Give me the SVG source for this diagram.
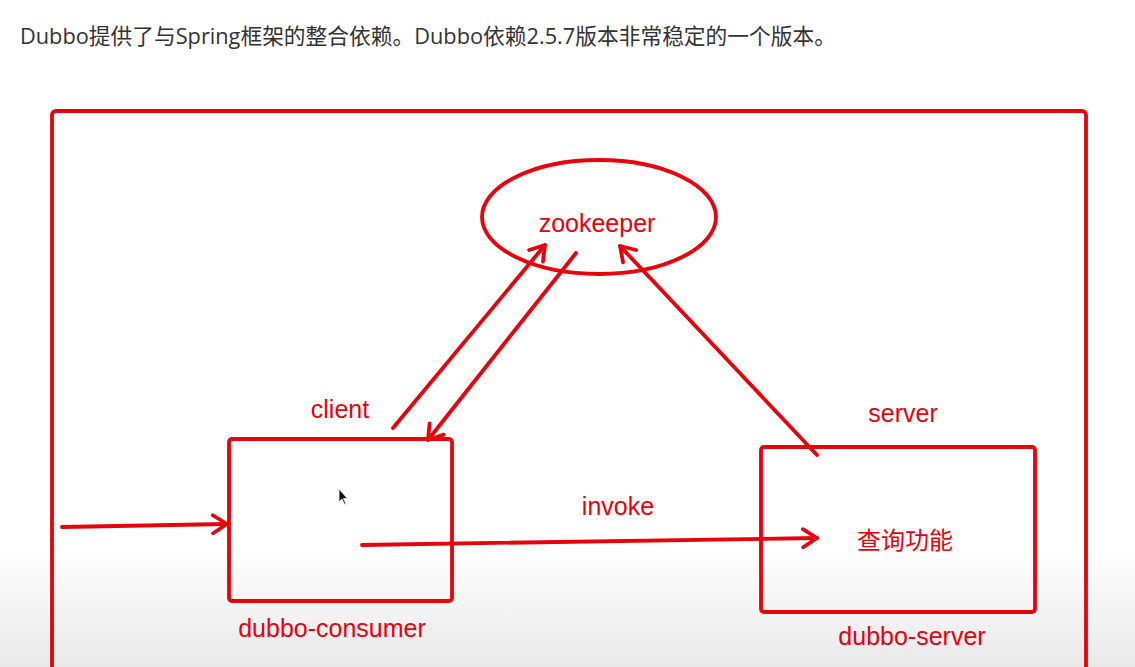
<svg xmlns="http://www.w3.org/2000/svg" width="1135" height="667" viewBox="0 0 1135 667">
<defs>
<linearGradient id="bg" x1="0" y1="0" x2="0" y2="1">
<stop offset="0" stop-color="#ffffff"/>
<stop offset="0.82" stop-color="#ffffff"/>
<stop offset="1" stop-color="#e9e9e9"/>
</linearGradient>
<marker id="arr" viewBox="0 0 22 22" refX="19" refY="11" markerWidth="22" markerHeight="22" markerUnits="userSpaceOnUse" orient="auto">
<path d="M5,2 L19,11 L5,20" fill="none" stroke="#e8000b" stroke-width="3.8" stroke-linecap="round" stroke-linejoin="round"/>
</marker>
</defs>
<style>
.ln{fill:none;stroke:#e8000b;stroke-width:3.8;stroke-linecap:round}
.box{fill:none;stroke:#e8000b;stroke-width:3.8}
.lbl{font-family:"Liberation Sans",Arial,sans-serif;font-size:25px;fill:#e8000b}
.cjk{font-family:"Liberation Sans","Noto Sans CJK SC",sans-serif;font-size:24px;fill:#e8000b}
.hdr{font-family:"Open Sans","Noto Sans CJK SC",sans-serif;font-size:22px;fill:#333333}
</style>
<rect x="0" y="0" width="1135" height="667" fill="url(#bg)"/>
<text class="hdr" x="20" y="44" textLength="816" lengthAdjust="spacingAndGlyphs">Dubbo提供了与Spring框架的整合依赖。Dubbo依赖2.5.7版本非常稳定的一个版本。</text>
<rect id="frame" x="52" y="111" width="1034" height="600" rx="4" class="box"/>
<g id="zookeeper">
<ellipse cx="599" cy="217" rx="117" ry="57" class="box"/>
<text class="lbl" x="597" y="232" text-anchor="middle">zookeeper</text>
</g>
<g id="consumer">
<rect x="229" y="439" width="223" height="162" rx="3" class="box"/>
<text class="lbl" x="340" y="418" text-anchor="middle">client</text>
<text class="lbl" x="332" y="637" text-anchor="middle">dubbo-consumer</text>
</g>
<g id="server">
<rect x="761" y="447" width="274" height="165" rx="3" class="box"/>
<text class="lbl" x="903" y="422" text-anchor="middle">server</text>
<text class="cjk" x="905" y="549" text-anchor="middle">查询功能</text>
<text class="lbl" x="912" y="645" text-anchor="middle">dubbo-server</text>
</g>
<g id="connectors">
<line x1="393" y1="428" x2="545" y2="245" class="ln" marker-end="url(#arr)"/>
<line x1="576" y1="253" x2="428" y2="440" class="ln" marker-end="url(#arr)"/>
<line x1="817" y1="455" x2="620" y2="246" class="ln" marker-end="url(#arr)"/>
<line x1="62" y1="527" x2="227" y2="524" class="ln" marker-end="url(#arr)"/>
<line x1="362" y1="545" x2="817" y2="538" class="ln" marker-end="url(#arr)"/>
<text class="lbl" x="618" y="515" text-anchor="middle">invoke</text>
</g>
<path d="M339,489 L339,502 L342,499 L344.5,504.5 L346,504 L343.5,498.5 L347.5,498.5 Z" fill="#111" stroke="#fff" stroke-width="0.8"/>
</svg>
